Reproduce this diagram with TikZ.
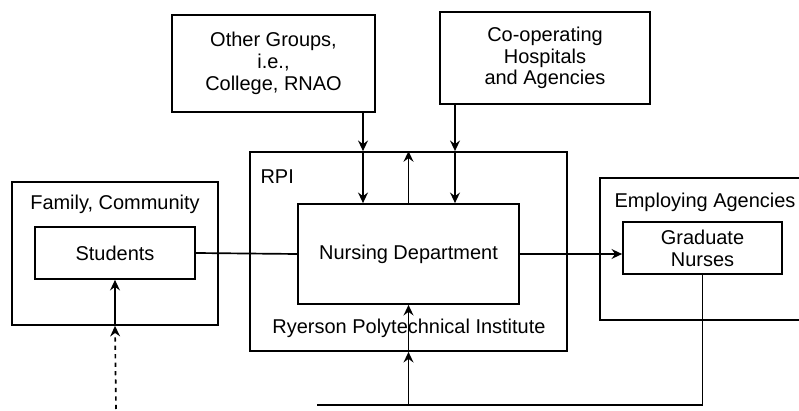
\documentclass[tikz,border=0pt]{standalone}
\usepackage{fontspec}
\setmainfont{Liberation Sans}
\usetikzlibrary{arrows.meta}

\begin{document}
\begin{tikzpicture}[x=0.025cm,y=-0.025cm,line width=1.2pt,
  every node/.style={font=\fontsize{14.2}{15.5}\selectfont},
  box/.style={draw,inner sep=0pt,align=center},
  arr/.style={-{Stealth[length=7.5pt,width=7pt,inset=2.5pt]}}]

\useasboundingbox (0,0) rectangle (799,411);

\coordinate (og) at (363,0);
\coordinate (co) at (455,0);
\coordinate (loopL) at (317,405);
\coordinate (stuin) at (116,409);

\node[box,minimum width=5.075cm,minimum height=2.425cm] (others) at (273.5,63.5) {Other Groups,\\i.e.,\\College, RNAO};
\node[box,minimum width=5.25cm,minimum height=2.3cm] (coop) at (545,58) {Co-operating\\Hospitals\\and Agencies};

\node[box,minimum width=7.925cm,minimum height=4.975cm] (rpi) at (408.5,251.5) {};
\node[box,minimum width=5.525cm,minimum height=2.5cm] (nursing) at (408.5,254) {Nursing Department};
\node[anchor=west] (rpilabel) at (255,177) {RPI};
\node (ryerson) at (409,328) {Ryerson Polytechnical Institute};

\node[box,minimum width=5.15cm,minimum height=3.575cm] (family) at (115,253.5) {};
\node[box,minimum width=4cm,minimum height=1.3cm] (students) at (115,253) {Students};
\node (famlabel) at (115,204) {Family, Community};

% employing agencies runs off the page
\draw (799,178) -- (600,178) -- (600,320) -- (799,320);
\node[anchor=west] (emplabel) at (609,202) {Employing Agencies};
\node[box,minimum width=3.975cm,minimum height=1.3cm] (graduate) at (702.5,248) {Graduate\\Nurses};

\draw[arr] (og |- others.south) -- (og |- rpi.north);
\draw[arr] (og |- rpi.north) -- (og |- nursing.north);
\draw[arr] (co |- coop.south) -- (co |- rpi.north);
\draw[arr] (co |- rpi.north) -- (co |- nursing.north);
\draw[arr] (nursing.north) -- (nursing.north |- rpi.north);

\draw (students.east) -- (nursing.west);
\draw[arr] (nursing.east) -- (nursing.east -| graduate.west);

\draw (graduate.south) |- (loopL);
\draw[arr] (nursing.south |- loopL) -- (rpi.south);
\draw[arr] (rpi.south) -- (nursing.south);

\draw[arr,dashed] (stuin) -- (family.south);
\draw[arr] (family.south) -- (students.south);
\end{tikzpicture}
\end{document}
